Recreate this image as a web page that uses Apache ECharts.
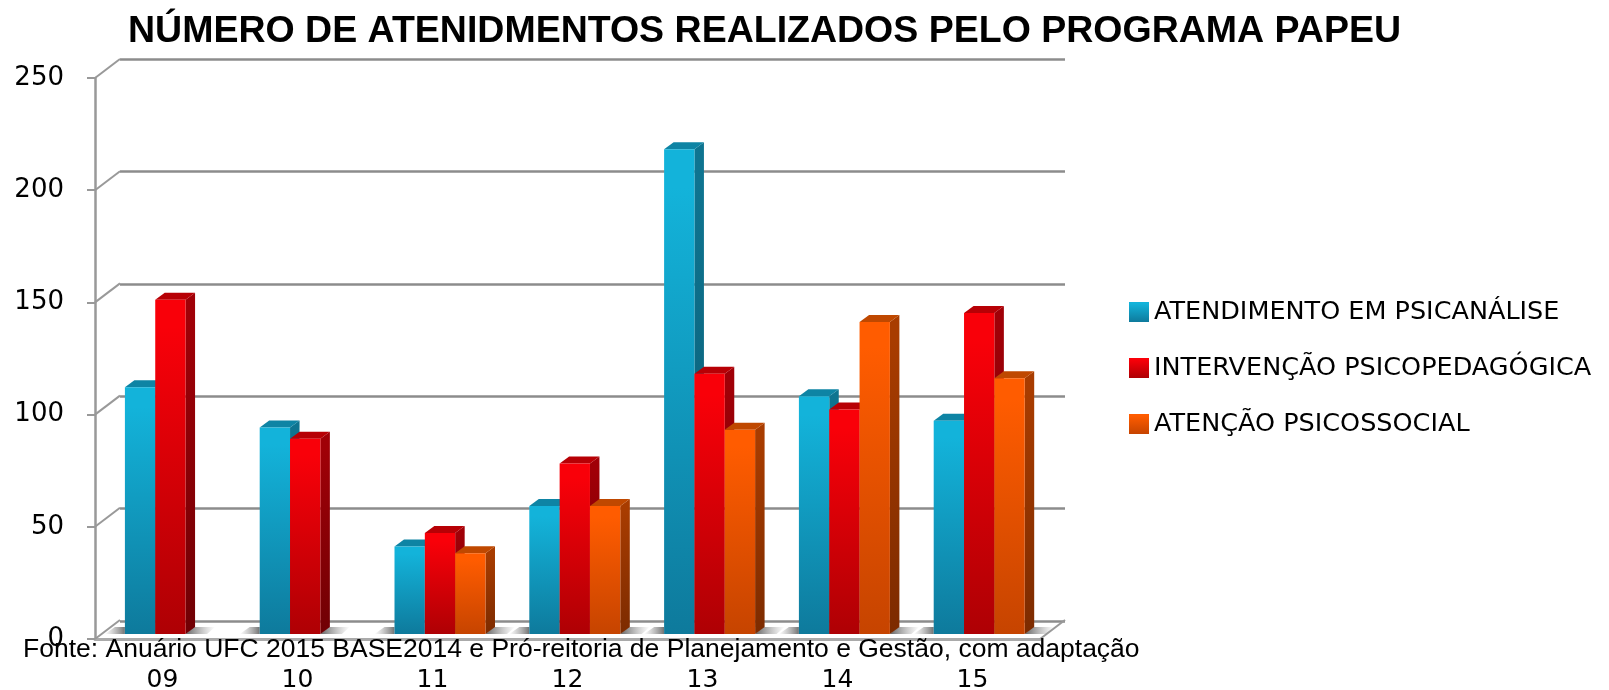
<!DOCTYPE html>
<html>
<head>
<meta charset="utf-8">
<title>Atendimentos PAPEU</title>
<script src="https://cdn.jsdelivr.net/npm/echarts@6/dist/echarts.min.js"></script>
<style>
  html, body { margin: 0; padding: 0; background: #fff; }
  #chart { width: 1609px; height: 690px; }
</style>
</head>
<body>
<div id="chart"></div>
<script>
var categories = ['09', '10', '11', '12', '13', '14', '15'];
var psicanalise = [110, 92, 39, 57, 216, 106, 95];
var psicopedagogica = [149, 87, 45, 76, 116, 100, 143];
var psicossocial = [null, null, 36, 57, 91, 139, 114];
var yTicks = [0, 50, 100, 150, 200, 250];

var LABEL_FONT = '"DejaVu Sans"';
var GRID_COLOR = '#8c8c8c';
var DEPTH_X = 25, DEPTH_Y = 19;   // profundidade da parede do fundo
var BAR_DX = 9.5, BAR_DY = 7;     // profundidade das barras

function vGrad(top, bottom) {
  return new echarts.graphic.LinearGradient(0, 0, 0, 1, [
    { offset: 0, color: top },
    { offset: 0.08, color: top },
    { offset: 1, color: bottom }
  ]);
}

var palette = [
  { front: ['#13b3da', '#0e7a9c'], top: '#0e84a4', side: ['#0e7490', '#0a5a72'] },
  { front: ['#f90009', '#ae0004'], top: '#b70005', side: ['#a00007', '#700004'] },
  { front: ['#ff5c00', '#c64400'], top: '#bf4800', side: ['#a83c00', '#7c2b00'] }
];

function bar3d(serieIndex) {
  return function (params, api) {
    var v = api.value(1);
    if (isNaN(v)) return;
    var band = api.size([1, 0])[0];
    var w = band * 0.225;
    var base = api.coord([api.value(0), 0]);
    var top = api.coord([api.value(0), v]);
    var x0 = base[0] - 1.5 * w + serieIndex * w;
    var x1 = x0 + w;
    var c = palette[serieIndex];
    return {
      type: 'group',
      children: [
        {
          type: 'polygon',
          shape: { points: [[x1, base[1]], [x1 + BAR_DX, base[1] - BAR_DY], [x1 + BAR_DX, top[1] - BAR_DY], [x1, top[1]]] },
          style: { fill: vGrad(c.side[0], c.side[1]) }
        },
        {
          type: 'polygon',
          shape: { points: [[x0, top[1]], [x0 + BAR_DX, top[1] - BAR_DY], [x1 + BAR_DX, top[1] - BAR_DY], [x1, top[1]]] },
          style: { fill: c.top }
        },
        {
          type: 'rect',
          shape: { x: x0, y: top[1], width: w, height: base[1] - top[1] },
          style: { fill: vGrad(c.front[0], c.front[1]) }
        }
      ]
    };
  };
}

function seriesData(values) {
  return values.map(function (v, i) { return [i, v]; });
}

// sombra no chao, dos dois lados de cada grupo
function floorShadow(params, api) {
  var i = api.value(0);
  var band = api.size([1, 0])[0];
  var w = band * 0.225;
  var base = api.coord([i, 0]);
  var left = base[0] - 1.5 * w;
  var count = psicossocial[i] == null ? 2 : 3;
  var right = left + count * w + BAR_DX;
  var y = base[1], h = 7;
  return {
    type: 'group',
    children: [
      {
        type: 'polygon',
        shape: { points: [[left - 20, y], [left, y], [left, y - h], [left - 10, y - h]] },
        style: { fill: new echarts.graphic.LinearGradient(0, 0, 1, 0, [
          { offset: 0, color: 'rgba(150,150,150,0)' },
          { offset: 1, color: 'rgba(115,115,115,1)' }
        ]) }
      },
      {
        type: 'polygon',
        shape: { points: [[right - BAR_DX, y], [right + 12, y], [right + 20, y - h], [right - 2, y - h]] },
        style: { fill: new echarts.graphic.LinearGradient(0, 0, 1, 0, [
          { offset: 0, color: 'rgba(100,100,100,1)' },
          { offset: 1, color: 'rgba(150,150,150,0)' }
        ]) }
      }
    ]
  };
}

// ligacoes diagonais entre o eixo da frente e a parede do fundo
function depthLine(params, api) {
  var band = api.size([1, 0])[0];
  var p = api.coord([api.value(0), api.value(1)]);
  var x = p[0] + api.value(2) * band / 2;
  return {
    type: 'line',
    shape: { x1: x, y1: p[1], x2: x + DEPTH_X, y2: p[1] - DEPTH_Y },
    style: { stroke: '#999', lineWidth: 2 }
  };
}

var depthData = yTicks.map(function (v) { return [0, v, -1]; }).concat([[categories.length - 1, 0, 1]]);

var myChart = echarts.init(document.getElementById('chart'), null, { renderer: 'canvas' });
myChart.setOption({
  animation: false,
  backgroundColor: '#fff',
  title: [
    {
      text: 'NÚMERO DE ATENIDMENTOS REALIZADOS PELO PROGRAMA PAPEU',
      left: 123, top: 8,
      textStyle: { fontFamily: '"Liberation Sans"', fontWeight: 'bold', fontSize: 37.5, color: '#000' }
    },
    {
      text: 'Fonte: Anuário UFC 2015 BASE2014 e Pró-reitoria de Planejamento e Gestão, com adaptação',
      left: 18, top: 631,
      textStyle: { fontFamily: '"Liberation Sans"', fontWeight: 'normal', fontSize: 26.5, color: '#000' }
    }
  ],
  legend: {
    orient: 'vertical',
    left: 1124, top: 294,
    itemWidth: 20, itemHeight: 20, itemGap: 30,
    icon: 'rect',
    data: ['ATENDIMENTO EM PSICANÁLISE', 'INTERVENÇÃO PSICOPEDAGÓGICA', 'ATENÇÃO PSICOSSOCIAL'],
    textStyle: { fontFamily: LABEL_FONT, fontSize: 25.5, color: '#000', padding: [0, 0, 10, 0] }
  },
  grid: [
    { left: 95, top: 78, width: 945, height: 561, outerBoundsMode: 'none' },
    { left: 120, top: 59, width: 945, height: 562, outerBoundsMode: 'none' },
    { left: 103, top: 73, width: 943.6, height: 561, outerBoundsMode: 'none' }
  ],
  xAxis: [
    { gridIndex: 0, type: 'category', data: categories,
      axisLine: { onZero: false, lineStyle: { color: '#aaa', width: 3 } },
      axisTick: { show: false },
      axisLabel: { margin: 29, interval: 0, fontFamily: LABEL_FONT, fontSize: 25, color: '#000' },
      splitLine: { show: false } },
    { gridIndex: 1, type: 'value', min: 0, max: 1, show: false },
    { gridIndex: 2, type: 'category', data: categories, show: false }
  ],
  yAxis: [
    { gridIndex: 0, type: 'value', min: 0, max: 250, interval: 50,
      axisLine: { show: true, lineStyle: { color: '#999', width: 2.5 } },
      axisTick: { show: true, length: 8, lineStyle: { color: '#999', width: 2 } },
      axisLabel: { margin: 31, padding: [3, 0, 0, 0], fontFamily: LABEL_FONT, fontSize: 26, color: '#000' },
      splitLine: { show: false } },
    { gridIndex: 1, type: 'value', min: 0, max: 250, interval: 50,
      axisLine: { show: false }, axisTick: { show: false }, axisLabel: { show: false },
      splitLine: { show: true, lineStyle: { color: GRID_COLOR, width: 2.5 } } },
    { gridIndex: 2, type: 'value', min: 0, max: 250, show: false }
  ],
  series: [
    { type: 'custom', xAxisIndex: 0, yAxisIndex: 0, z: 1, silent: true, clip: false,
      renderItem: depthLine, data: depthData, encode: { x: 0, y: 1 } },
    { type: 'custom', xAxisIndex: 2, yAxisIndex: 2, z: 1, silent: true, clip: false,
      renderItem: floorShadow, data: categories.map(function (c, i) { return [i, 0]; }), encode: { x: 0, y: 1 } },
    { name: 'ATENDIMENTO EM PSICANÁLISE', type: 'custom', xAxisIndex: 2, yAxisIndex: 2, z: 2, clip: false,
      itemStyle: { color: vGrad('#13b3da', '#0e7a9c') },
      renderItem: bar3d(0), data: seriesData(psicanalise), encode: { x: 0, y: 1 } },
    { name: 'INTERVENÇÃO PSICOPEDAGÓGICA', type: 'custom', xAxisIndex: 2, yAxisIndex: 2, z: 3, clip: false,
      itemStyle: { color: vGrad('#f90009', '#ae0004') },
      renderItem: bar3d(1), data: seriesData(psicopedagogica), encode: { x: 0, y: 1 } },
    { name: 'ATENÇÃO PSICOSSOCIAL', type: 'custom', xAxisIndex: 2, yAxisIndex: 2, z: 4, clip: false,
      itemStyle: { color: vGrad('#ff5c00', '#c64400') },
      renderItem: bar3d(2), data: seriesData(psicossocial), encode: { x: 0, y: 1 } }
  ]
});
</script>
</body>
</html>
